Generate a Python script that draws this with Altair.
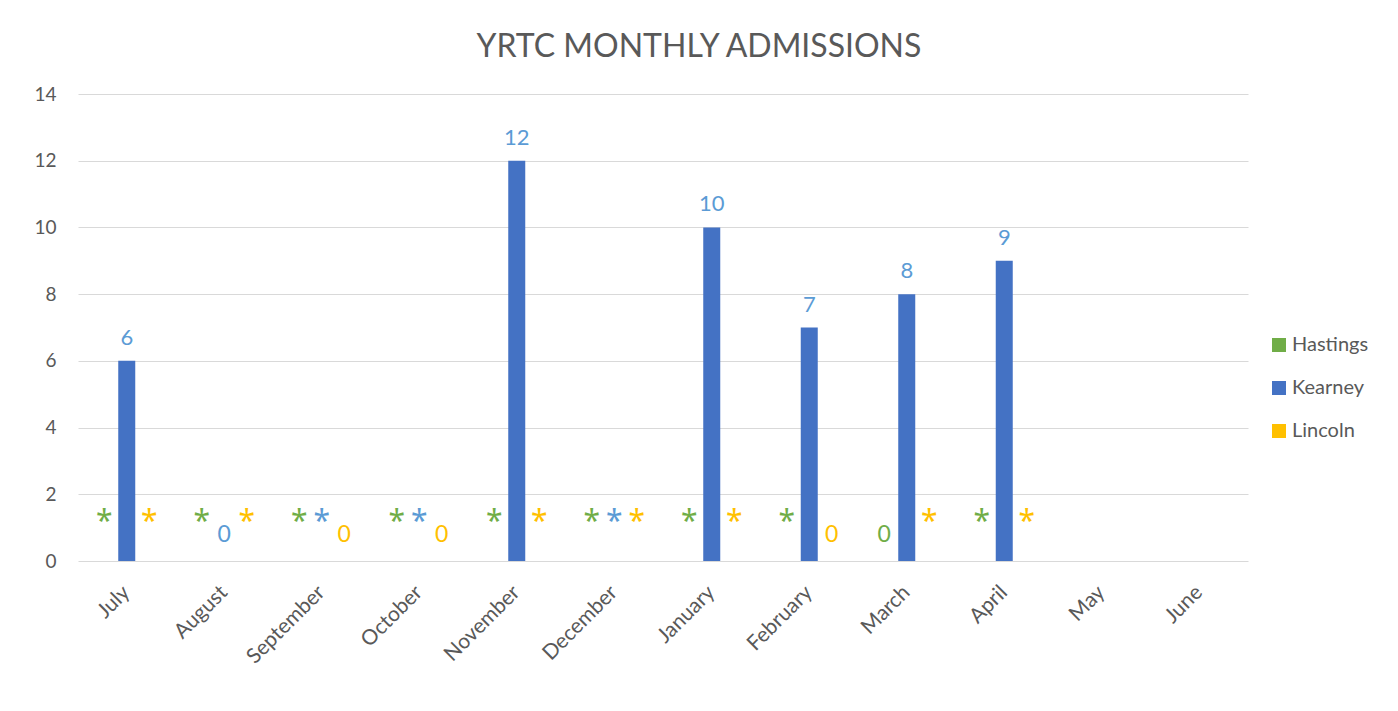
import altair as alt
import pandas as pd

months = ["July", "August", "September", "October", "November", "December",
          "January", "February", "March", "April", "May", "June"]
series = ["Hastings", "Kearney", "Lincoln"]

# None = suppressed ("*") or not yet reported
hastings_values = [None, None, None, None, None, None, None, None, 0, None, None, None]
kearney_values = [6, 0, None, None, 12, None, 10, 7, 8, 9, None, None]
lincoln_values = [None, None, 0, 0, None, None, None, 0, None, None, None, None]

hastings_labels = ["*", "*", "*", "*", "*", "*", "*", "*", "0", "*", "", ""]
kearney_labels = ["6", "0", "*", "*", "12", "*", "10", "7", "8", "9", "", ""]
lincoln_labels = ["*", "*", "0", "0", "*", "*", "*", "0", "*", "*", "", ""]

bar_colors = ["#70ad47", "#4472c4", "#ffc000"]
label_colors = ["#70ad47", "#5b9bd5", "#ffc000"]

rows = []
for s, vals, labs in [("Hastings", hastings_values, hastings_labels),
                      ("Kearney", kearney_values, kearney_labels),
                      ("Lincoln", lincoln_values, lincoln_labels)]:
    for m, v, l in zip(months, vals, labs):
        rows.append({"month": m, "series": s, "value": v, "label": l})
df = pd.DataFrame(rows)

FONT = "Lato"
GREY = "#595959"

x_enc = alt.X("month:N", sort=months, title=None,
              scale=alt.Scale(domain=months, paddingInner=0, paddingOuter=0),
              axis=alt.Axis(labelAngle=315, labelFontSize=21, labelColor=GREY,
                            labelFont=FONT, ticks=False, domain=False,
                            labelAlign="right", labelBaseline="middle",
                            labelPadding=28))
xoff = alt.XOffset("series:N", sort=series,
                   scale=alt.Scale(domain=series, paddingInner=0.244, paddingOuter=0.789))

base = alt.Chart(df).transform_calculate(
    ypos="isValid(datum.value) ? datum.value : 0"
)

bars = base.transform_filter("isValid(datum.value)").mark_bar().encode(
    x=x_enc,
    xOffset=xoff,
    y=alt.Y("value:Q", title=None,
            scale=alt.Scale(domain=[0, 14], nice=False),
            axis=alt.Axis(values=[0, 2, 4, 6, 8, 10, 12, 14], labelFontSize=19,
                          labelColor=GREY, labelFont=FONT, ticks=False,
                          domain=False, gridColor="#d9d9d9", labelPadding=22)),
    color=alt.Color("series:N", sort=series,
                    scale=alt.Scale(domain=series, range=bar_colors),
                    legend=alt.Legend(title=None, orient="none", legendX=1191,
                                      legendY=241, symbolType="square",
                                      symbolSize=196, symbolStrokeWidth=0,
                                      labelFontSize=20, labelFont=FONT,
                                      labelColor=GREY, rowPadding=23,
                                      labelOffset=3)),
)

label_color = alt.Color("series:N", scale=alt.Scale(domain=series, range=label_colors),
                        legend=None)

bar_labels = base.transform_filter(
    "datum.label != '*' && datum.label != '' && datum.ypos > 0"
).mark_text(fontSize=22, font=FONT, baseline="alphabetic", dy=-16).encode(
    x=x_enc, xOffset=xoff, y=alt.Y("ypos:Q"), text="label:N", color=label_color,
)

zero_labels = base.transform_filter(
    "datum.label != '*' && datum.label != '' && datum.ypos == 0"
).mark_text(fontSize=23, font=FONT, baseline="alphabetic", dy=-19).encode(
    x=x_enc, xOffset=xoff, y=alt.Y("ypos:Q"), text="label:N", color=label_color,
)

star_labels = base.transform_filter("datum.label == '*'").mark_text(
    fontSize=30, font="Noto Sans", baseline="alphabetic", dy=-30
).encode(
    x=x_enc, xOffset=xoff, y=alt.Y("ypos:Q"), text="label:N", color=label_color,
)

labels = alt.layer(bar_labels, zero_labels, star_labels)

chart = alt.layer(bars, labels).resolve_scale(color="independent").properties(
    width=1170, height=467,
    background="white",
    title=alt.TitleParams("YRTC MONTHLY ADMISSIONS", fontSize=32, font=FONT,
                          fontWeight="normal", color=GREY, anchor="middle",
                          offset=21, dx=36),
    autosize=alt.AutoSizeParams(type="none"),
    padding={"left": 70, "top": 86, "right": 142, "bottom": 142},
).configure_view(strokeWidth=0, stroke="transparent")

chart.save("out.html", embed_options={"renderer": "svg", "actions": False})
